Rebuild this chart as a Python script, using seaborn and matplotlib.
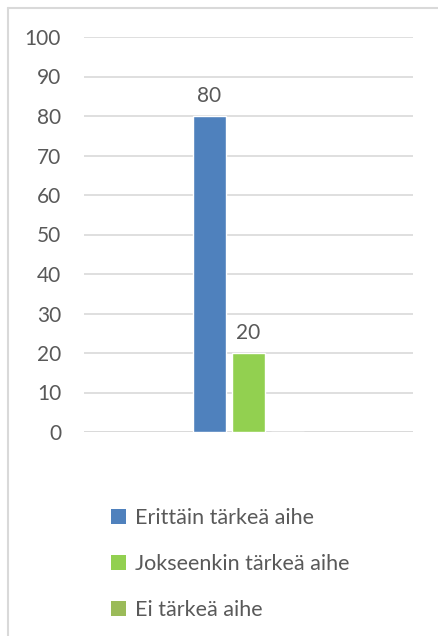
import pandas as pd
import matplotlib.pyplot as plt
import seaborn as sns
from matplotlib.patches import Patch
from matplotlib.lines import Line2D

# data
groups = [""]
series = ["Erittäin tärkeä aihe", "Jokseenkin tärkeä aihe", "Ei tärkeä aihe"]
values = [80, 20, 0]
colors = ["#4F81BD", "#92D050", "#9BBB59"]

df = pd.DataFrame({"group": groups * 3, "series": series, "value": values})

sns.set_theme(style="white")
plt.rcParams["font.family"] = ["Lato", "DejaVu Sans"]
txt = "#595959"
fs = 15

fig = plt.figure(figsize=(4.38, 6.36), dpi=100)
ax = fig.add_axes([84 / 438, 1 - 432 / 636, 329 / 438, 395 / 636])

sns.barplot(data=df, x="group", y="value", hue="series", hue_order=series,
            palette=colors, width=0.356, gap=0.154, saturation=1,
            legend=False, ax=ax)

ax.set_xlim(-0.5, 0.5)
ax.set_ylim(0, 100)
ax.set_yticks(range(0, 101, 10))
ax.set_xticks([])
ax.set_xlabel("")
ax.set_ylabel("")
ax.yaxis.grid(True, color="#D9D9D9", linewidth=1.2)
ax.set_axisbelow(True)
for s in ax.spines.values():
    s.set_visible(False)
ax.axhline(0, color="#D9D9D9", linewidth=1.2, zorder=0.5)
ax.tick_params(axis="y", length=0, pad=16.5, labelsize=fs, labelcolor=txt)

for cont, v in zip(ax.containers, values):
    if v > 0:
        ax.bar_label(cont, padding=7, fontsize=fs, color=txt)

handles = [Patch(facecolor=c, edgecolor="none") for c in colors]
fig.legend(handles, series, loc="upper left", bbox_to_anchor=(92 / 438, 1 - 489 / 636),
           frameon=False, fontsize=fs + 0.5, labelcolor=txt, handlelength=0.68,
           handleheight=0.68, handletextpad=0.4, labelspacing=1.2)

# chart border (top and left edges visible)
fig.add_artist(Line2D([8 / 438, 1], [1 - 8 / 636] * 2, color="#D9D9D9", linewidth=1.5))
fig.add_artist(Line2D([8 / 438] * 2, [0, 1 - 8 / 636], color="#D9D9D9", linewidth=1.5))

fig.savefig("out.png", dpi=100)
